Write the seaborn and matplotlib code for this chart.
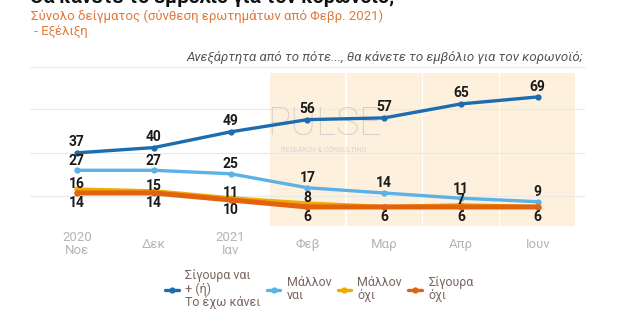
import matplotlib
matplotlib.use("Agg")
import matplotlib.pyplot as plt
import seaborn as sns
import pandas as pd
from matplotlib.lines import Line2D

# ---- data ----
months = ["2020\nΝοε", "Δεκ", "2021\nΙαν", "Φεβ", "Μαρ", "Απρ", "Ιουν"]
sure_yes = [37, 40, 49, 56, 57, 65, 69]
likely_yes = [27, 27, 25, 17, 14, 11, 9]
likely_no = [16, 15, 11, 8, 6, 7, 6]
sure_no = [14, 14, 10, 6, 6, 6, 6]
series_names = ["Σίγουρα ναι\n+ (ή)\nΤο έχω κάνει", "Μάλλον\nναι", "Μάλλον\nόχι", "Σίγουρα\nόχι"]
shown_likely_no = [True, True, True, True, False, True, False]

colors = ["#1c6daf", "#5cb1e5", "#f2a900", "#e1620f"]
widths = [2.4, 2.4, 3.0, 3.6]

sns.set_theme(style="white")
plt.rcParams["font.family"] = ["Roboto", "DejaVu Sans"]

fig = plt.figure(figsize=(6.2, 3.3), dpi=100)
W, H = 620, 330


def fx(px):
    return px / W


def fy(py):
    return 1 - py / H


ax = fig.add_axes([fx(30), fy(226), fx(585) - fx(30), fy(73) - fy(226)])
ax.set_xlim(-0.612, 6.615)
ax.set_ylim(-4.9, 82.7)
for s in ax.spines.values():
    s.set_visible(False)
ax.set_yticks([])

# shaded columns for the 2021 split-question period
for i in range(3, 7):
    ax.axvspan(i - 0.49, i + 0.49, color="#fdf1de", zorder=0, lw=0)

for g in [12.3, 37, 62.1]:
    ax.axhline(g, color="#e9e9e9", lw=0.8, zorder=0.5)

x = list(range(len(months)))
all_series = [sure_yes, likely_yes, likely_no, sure_no]
for vals, name, col, lw in zip(all_series, series_names, colors, widths):
    df = pd.DataFrame({"x": x, "v": vals})
    sns.lineplot(data=df, x="x", y="v", ax=ax, color=col, lw=lw,
                 marker="o", markersize=4.5, markeredgewidth=0, zorder=3)

lab_kw = dict(ha="center", va="center", fontsize=10, fontweight="bold",
              color="#1a1a1a", textcoords="offset points", zorder=5)
for i in x:
    ax.annotate(str(sure_yes[i]), (i, sure_yes[i]), xytext=(0, 7.5), **lab_kw)
    ax.annotate(str(likely_yes[i]), (i, likely_yes[i]), xytext=(0, 7), **lab_kw)
    if shown_likely_no[i]:
        ax.annotate(str(likely_no[i]), (i, likely_no[i]), xytext=(0, 4), **lab_kw)
    ax.annotate(str(sure_no[i]), (i, sure_no[i]), xytext=(0, -7), **lab_kw)

ax.set_xticks(x)
ax.set_xticklabels(months, fontsize=9.5, color="#b5b5b5", linespacing=1.0)
ax.tick_params(axis="x", length=0, pad=13)
for t in ax.get_xticklabels():
    t.set_va("center")
ax.set_xlabel("")
ax.set_ylabel("")

# watermark
ax.text(fx(324), fy(124), "PULSE", transform=fig.transFigure, ha="center", va="center",
        fontsize=28, color="#c9c9c9", alpha=0.8, fontweight="light", zorder=1)
ax.text(fx(324), fy(150), "RESEARCH & CONSULTING", transform=fig.transFigure, ha="center",
        va="center", fontsize=5, color="#d0d0d0", alpha=0.9, zorder=1)

# titles
fig.text(fx(30), fy(3), "Θα κάνετε το εμβόλιο για τον κορωνοϊό;", ha="left", va="baseline",
         fontsize=14, fontweight="bold", color="#111111")
fig.text(fx(31), fy(16), "Σύνολο δείγματος (σύνθεση ερωτημάτων από Φεβρ. 2021)", ha="left",
         va="center", fontsize=9.5, color="#e07a3c")
fig.text(fx(31), fy(31), " - Εξέλιξη", ha="left", va="center", fontsize=9.5, color="#e07a3c")
fig.text(fx(583), fy(57), "Ανεξάρτητα από το πότε..., θα κάνετε το εμβόλιο για τον κορωνοϊό;",
         ha="right", va="center", fontsize=9.5, style="italic", color="#555555")
fig.add_artist(Line2D([fx(30), fx(585)], [fy(67), fy(67)], color="#ececec", lw=0.8,
                      transform=fig.transFigure))

# legend
handles = [Line2D([], [], color=c, lw=2.4, marker="o", markersize=4.5, markeredgewidth=0)
           for c in colors]
leg = fig.legend(handles, series_names, loc="center left", bbox_to_anchor=(fx(165), fy(289)),
                 ncol=4, frameon=False, fontsize=9, handlelength=1.1, handletextpad=0.5,
                 columnspacing=0.5, borderpad=0, borderaxespad=0, labelspacing=0.2)
for t in leg.get_texts():
    t.set_color("#7a6660")
    t.set_linespacing(1.0)

fig.savefig("out.png", dpi=100)
